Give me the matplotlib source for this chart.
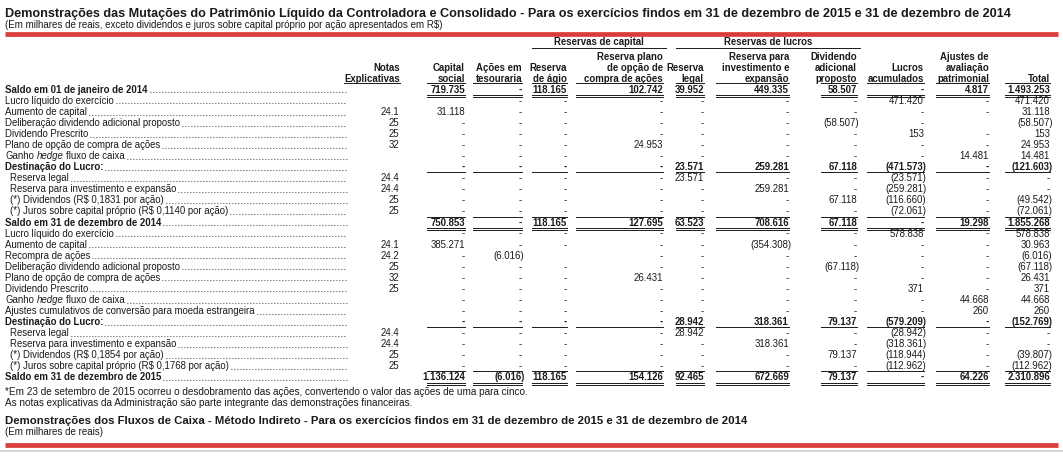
import matplotlib
matplotlib.use('Agg')
import matplotlib.pyplot as plt
from matplotlib import font_manager

W, H = 1063, 463

names = {f.name for f in font_manager.fontManager.ttflist}
NARROW = 'Liberation Sans Narrow' if 'Liberation Sans Narrow' in names else 'Liberation Sans'
WIDE = 'Liberation Sans'
INK = '#1a1a1a'
RED = '#dc3b3b'

titulo = ('Demonstrações das Mutações do Patrimônio Líquido da Controladora e Consolidado'
          ' - Para os exercícios findos em 31 de dezembro de 2015 e 31 de dezembro de 2014')
subtitulo = ('(Em milhares de reais, exceto dividendos e juros sobre capital próprio'
             ' por ação apresentados em R$)')
titulo2 = ('Demonstrações dos Fluxos de Caixa - Método Indireto - Para os exercícios findos'
           ' em 31 de dezembro de 2015 e 31 de dezembro de 2014')
subtitulo2 = '(Em milhares de reais)'
rodape = ['*Em 23 de setembro de 2015 ocorreu o desdobramento das ações, convertendo o valor das ações de uma para cinco.',
          'As notas explicativas da Administração são parte integrante das demonstrações financeiras.']

# column headers (bottom aligned)
cabecalhos = [['Notas', 'Explicativas'],
              ['Capital', 'social'],
              ['Ações em', 'tesouraria'],
              ['Reserva', 'de ágio'],
              ['Reserva plano', 'de opção de', 'compra de ações'],
              ['Reserva', 'legal'],
              ['Reserva para', 'investimento e', 'expansão'],
              ['Dividendo', 'adicional', 'proposto'],
              ['Lucros', 'acumulados'],
              ['Ajustes de', 'avaliação', 'patrimonial'],
              ['Total']]
grupos = ['Reservas de capital', 'Reservas de lucros']

# '|' marks italic pieces
rotulos = ['Saldo em 01 de janeiro de 2014',
           'Lucro líquido do exercício',
           'Aumento de capital',
           'Deliberação dividendo adicional proposto',
           'Dividendo Prescrito',
           'Plano de opção de compra de ações',
           'Ganho |hedge| fluxo de caixa',
           'Destinação do Lucro:',
           'Reserva legal',
           'Reserva para investimento e expansão',
           '(*) Dividendos (R$ 0,1831 por ação)',
           '(*) Juros sobre capital próprio (R$ 0,1140 por ação)',
           'Saldo em 31 de dezembro de 2014',
           'Lucro líquido do exercício',
           'Aumento de capital',
           'Recompra de ações',
           'Deliberação dividendo adicional proposto',
           'Plano de opção de compra de ações',
           'Dividendo Prescrito',
           'Ganho |hedge| fluxo de caixa',
           'Ajustes cumulativos de conversão para moeda estrangeira',
           'Destinação do Lucro:',
           'Reserva legal',
           'Reserva para investimento e expansão',
           '(*) Dividendos (R$ 0,1854 por ação)',
           '(*) Juros sobre capital próprio (R$ 0,1768 por ação)',
           'Saldo em 31 de dezembro de 2015']

notas = ['', '', '24.1', '25', '25', '32', '', '', '24.4', '24.4', '25', '25', '',
         '', '24.1', '24.2', '25', '32', '25', '', '', '', '24.4', '24.4', '25', '25', '']
capital_social = ['719.735', '', '31.118', '-', '-', '-', '-', '-', '-', '-', '-', '-', '750.853',
                  '-', '385.271', '-', '-', '-', '-', '-', '-', '-', '-', '-', '-', '-', '1.136.124']
acoes_tesouraria = ['-', '-', '-', '-', '-', '-', '-', '-', '-', '-', '-', '-', '-',
                    '-', '-', '(6.016)', '-', '-', '-', '-', '-', '-', '-', '-', '-', '-', '(6.016)']
reserva_agio = ['118.165', '-', '-', '-', '-', '-', '-', '-', '-', '-', '-', '-', '118.165',
                '-', '-', '', '-', '-', '-', '-', '-', '-', '-', '-', '-', '-', '118.165']
reserva_plano = ['102.742', '-', '-', '-', '-', '24.953', '-', '-', '-', '-', '-', '-', '127.695',
                 '-', '-', '-', '-', '26.431', '-', '-', '-', '-', '-', '-', '-', '-', '154.126']
reserva_legal = ['39.952', '-', '-', '-', '-', '-', '-', '23.571', '23.571', '-', '-', '-', '63.523',
                 '-', '-', '-', '-', '-', '-', '-', '-', '28.942', '28.942', '-', '-', '-', '92.465']
reserva_investimento = ['449.335', '-', '-', '-', '-', '-', '-', '259.281', '-', '259.281', '-', '-', '708.616',
                        '-', '(354.308)', '-', '-', '-', '-', '-', '-', '318.361', '-', '318.361', '-', '-', '672.669']
dividendo_adicional = ['58.507', '-', '-', '(58.507)', '-', '-', '-', '67.118', '-', '-', '67.118', '-', '67.118',
                       '-', '-', '-', '(67.118)', '-', '-', '-', '-', '79.137', '-', '-', '79.137', '-', '79.137']
lucros_acumulados = ['-', '471.420', '-', '-', '153', '-', '-', '(471.573)', '(23.571)', '(259.281)',
                     '(116.660)', '(72.061)', '-',
                     '578.838', '-', '-', '-', '-', '371', '-', '-', '(579.209)', '(28.942)', '(318.361)',
                     '(118.944)', '(112.962)', '-']
ajustes_avaliacao = ['4.817', '-', '-', '', '-', '-', '14.481', '-', '-', '-', '-', '-', '19.298',
                     '-', '-', '-', '-', '-', '-', '44.668', '260', '-', '-', '-', '-', '-', '64.226']
total = ['1.493.253', '471.420', '31.118', '(58.507)', '153', '24.953', '14.481', '(121.603)', '-', '-',
         '(49.542)', '(72.061)', '1.855.268',
         '578.838', '30.963', '(6.016)', '(67.118)', '26.431', '371', '44.668', '260', '(152.769)', '-', '-',
         '(39.807)', '(112.962)', '2.310.896']

colunas = [notas, capital_social, acoes_tesouraria, reserva_agio, reserva_plano, reserva_legal,
           reserva_investimento, dividendo_adicional, lucros_acumulados, ajustes_avaliacao, total]

linhas_negrito = [0, 7, 12, 21, 26]
linhas_recuo = [8, 9, 10, 11, 22, 23, 24, 25]
linhas_dupla = [0, 12, 26]
linhas_simples = [7, 11, 21, 25]

# layout (pixels)
col_right = [400, 465, 522, 567, 663, 704, 789, 857, 924, 989, 1050]
col_left = [348, 427, 473, 532, 576, 676, 716, 821, 867, 936, 1005]
row0, pitch = 89.3, 11.06
head_y = [56.5, 67.6, 78.4]

fig = plt.figure(figsize=(W / 100, H / 100), dpi=100)
ax = fig.add_axes([0, 0, 1, 1])
ax.set_xlim(0, W)
ax.set_ylim(H, 0)
ax.axis('off')
renderer = fig.canvas.get_renderer()


def width(s, **kw):
    t = ax.text(0, 0, s, **kw)
    w = t.get_window_extent(renderer).width
    t.remove()
    return w


def fit(s, target, **kw):
    return 10 * target / width(s, fontsize=10, **kw)


def txt(x, y, s, size, family=NARROW, weight='normal', ha='left', style='normal'):
    return ax.text(x, y, s, fontsize=size, family=family, weight=weight, style=style,
                   ha=ha, va='baseline', color=INK)


fs = fit('Ajustes cumulativos de conversão para moeda estrangeira', 253, family=NARROW)
cap = fs / 72 * 100 * 0.72
space_w = width('a a', fontsize=fs, family=NARROW) - width('aa', fontsize=fs, family=NARROW)

# titles and red bars
ft = fit(titulo, 1004, family=WIDE, weight='bold')
txt(5, 12 + ft / 72 * 100 * 0.36, titulo, ft, family=WIDE, weight='bold')
fsub = fit(subtitulo, 438, family=NARROW)
txt(5, 25 + cap / 2, subtitulo, fsub)
ax.plot([5, 1058], [34, 34], color=RED, lw=3.4, solid_capstyle='butt')

ft2 = fit(titulo2, 736, family=WIDE, weight='bold')
txt(5, 420 + ft2 / 72 * 100 * 0.36, titulo2, ft2, family=WIDE, weight='bold')
txt(5, 432 + cap / 2, subtitulo2, fsub)
ax.plot([5, 1058], [445, 445], color=RED, lw=3.4, solid_capstyle='butt')
ax.plot([0, W], [451, 451], color='#cfcfcf', lw=1.2)

# group headers
for nome, (a, b) in zip(grupos, [(3, 4), (5, 7)]):
    x0, x1 = col_left[a], col_right[b] + 3
    txt((x0 + x1) / 2, 42 + cap / 2, nome, fs, weight='bold', ha='center')
    ax.plot([x0, x1], [48.4, 48.4], color=INK, lw=0.7)

# column headers
for c, linhas in enumerate(cabecalhos):
    n = len(linhas)
    for k, s in enumerate(linhas):
        txt(col_right[c], head_y[3 - n + k] + cap / 2, s, fs, weight='bold', ha='right')
    if c == 0:
        x0 = col_right[0] - width(linhas[-1], fontsize=fs, family=NARROW, weight='bold')
    else:
        x0 = col_left[c]
    ax.plot([x0, col_right[c]], [82.8, 82.8], color=INK, lw=0.7)

# rows
for r, rot in enumerate(rotulos):
    yc = row0 + r * pitch
    yb = yc + cap / 2
    peso = 'bold' if r in linhas_negrito else 'normal'
    x = 10 if r in linhas_recuo else 5
    for k, parte in enumerate(rot.split('|')):
        x += (len(parte) - len(parte.lstrip(' '))) * space_w
        t = txt(x, yb, parte.strip(' '), fs, weight=peso, style='italic' if k % 2 else 'normal')
        x = t.get_window_extent(renderer).x1
        x += (len(parte) - len(parte.rstrip(' '))) * space_w
    ax.plot([x + 2, 347], [yb - 0.4, yb - 0.4], color=INK, lw=0.8,
            linestyle=(0, (0.7, 2.0)), dash_capstyle='butt')

    for c, col in enumerate(colunas):
        v = col[r]
        if v:
            xr = col_right[c] - (1 if c == 0 else 0) + (2.5 if v.startswith('(') else 0)
            txt(xr, yb, v, fs, weight=peso, ha='right')
        if c == 0:
            continue
        if r in linhas_dupla:
            for dy in (5.8, 7.8):
                ax.plot([col_left[c], col_right[c]], [yc + dy, yc + dy], color=INK, lw=0.7)
        if r in linhas_simples:
            ax.plot([col_left[c], col_right[c]], [yc + 5.6, yc + 5.6], color=INK, lw=0.7)

for k, s in enumerate(rodape):
    txt(5, 392 + 11 * k + cap / 2, s, fit(rodape[0], 526, family=NARROW))

fig.savefig('out.png', dpi=100)
